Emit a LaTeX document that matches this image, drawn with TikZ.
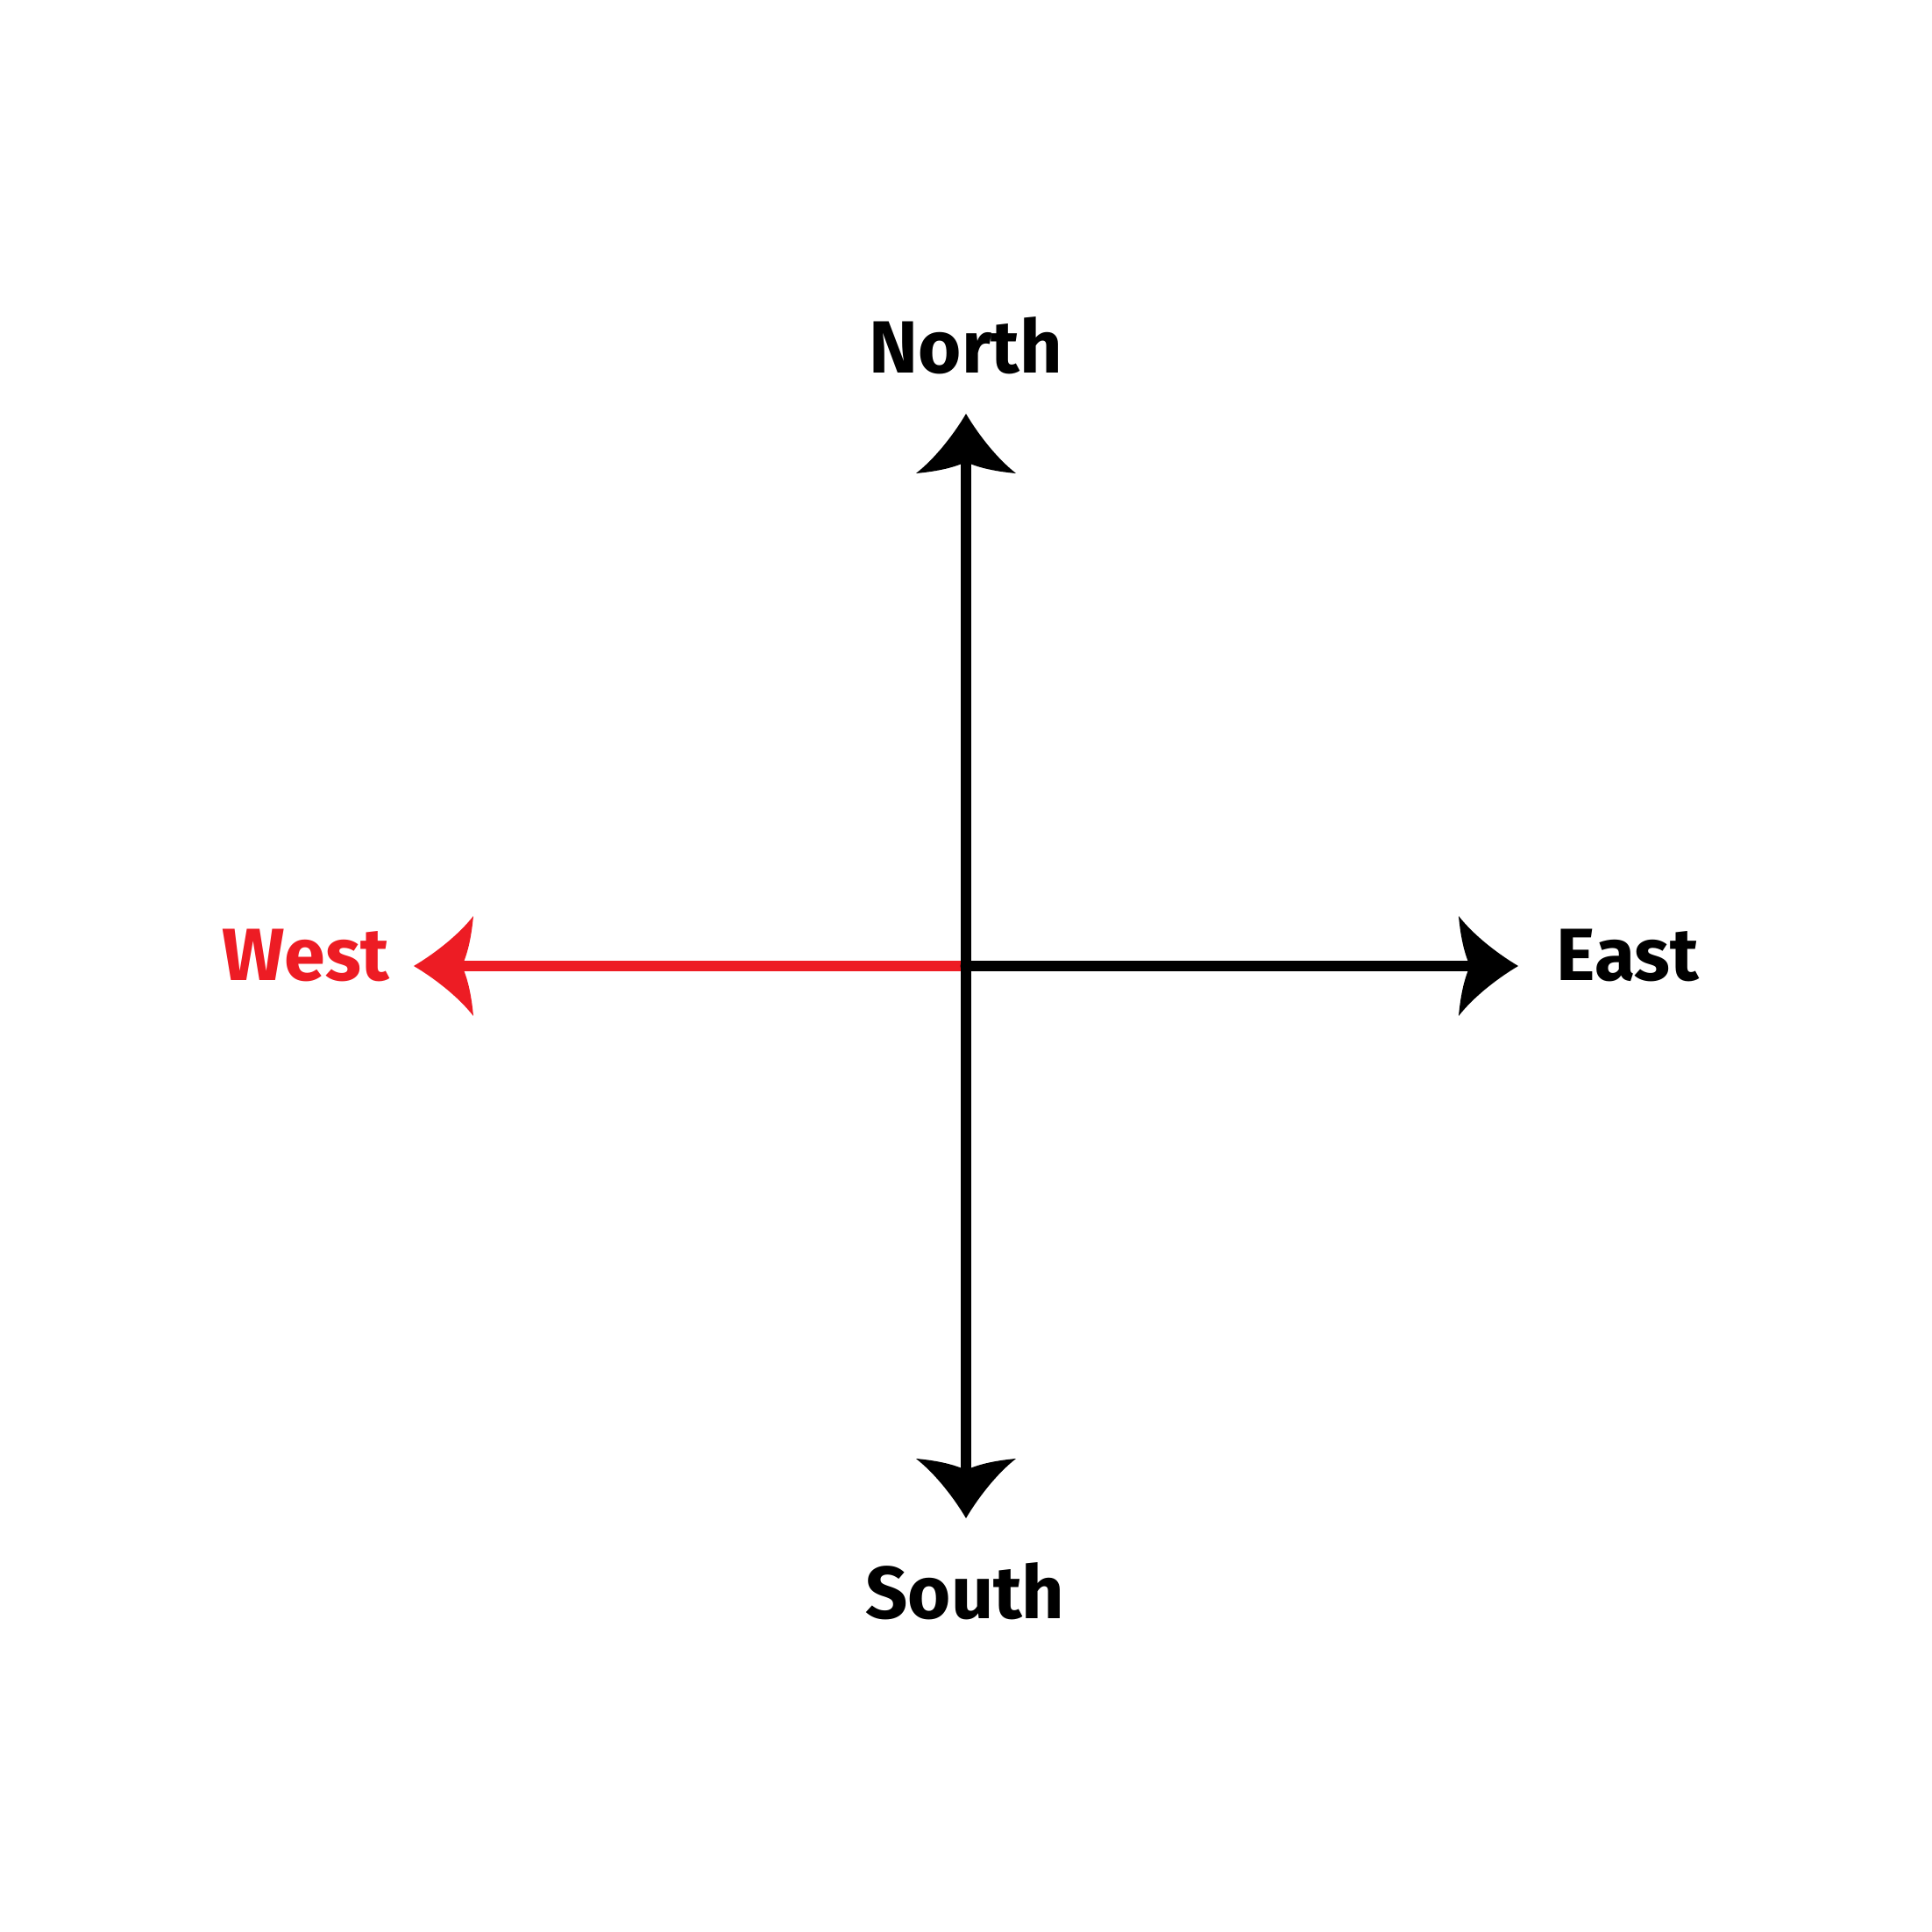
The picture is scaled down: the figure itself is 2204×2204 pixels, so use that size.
\documentclass[tikz,border=0pt]{standalone}
\usepackage{fontspec}
\setmainfont{Fira Sans}
\definecolor{westred}{HTML}{ED1C24}
\tikzset{
  lbl/.style={font=\fontsize{24}{24}\selectfont\bfseries, inner sep=0pt, anchor=base},
  shaft/.style={line width=13pt*0.2835},
  compasstip/.pic={
    \fill (0,0) .. controls (-22,13) and (-50,34) .. (-68,57)
      .. controls (-66,35) and (-62,15) .. (-55,0)
      .. controls (-62,-15) and (-66,-35) .. (-68,-57)
      .. controls (-50,-34) and (-22,-13) .. cycle;
  }
}
\begin{document}
\begin{tikzpicture}[x=0.01cm, y=0.01cm]
  \useasboundingbox (-1102,-1102) rectangle (1102,1102);
  % tips and shaft ends
  \coordinate (c) at (0,0);
  \coordinate (ntip) at (0,630);
  \coordinate (stip) at (0,-630);
  \coordinate (etip) at (630,0);
  \coordinate (wtip) at (-630,0);
  \coordinate (nend) at (0,580);
  \coordinate (send) at (0,-580);
  \coordinate (eend) at (580,0);
  \coordinate (wend) at (-580,0);
  % connectors
  \draw[shaft, westred] (c) -- (wend);
  \draw[shaft, line cap=round] (c) -- (eend);
  \draw[shaft] (send) -- (nend);
  % arrow heads
  \pic[rotate=90] at (ntip) {compasstip};
  \pic[rotate=-90] at (stip) {compasstip};
  \pic at (etip) {compasstip};
  \pic[rotate=180, fill=westred] at (wtip) {compasstip};
  % labels
  \node[lbl] (nlbl) at (0,676) {North};
  \node[lbl] (slbl) at (-1,-744) {South};
  \node[lbl] (elbl) at (755,-17) {East};
  \node[lbl, text=westred] (wlbl) at (-753,-17) {West};
\end{tikzpicture}
\end{document}
